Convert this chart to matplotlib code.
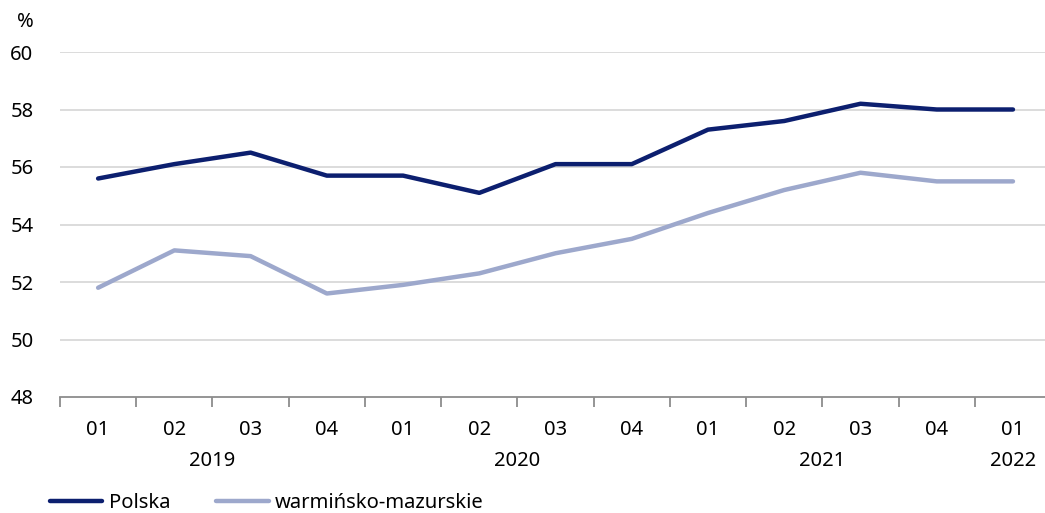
import matplotlib.pyplot as plt
import numpy as np

plt.rcParams['font.family'] = ['Noto Sans', 'DejaVu Sans']

quarters = ['01', '02', '03', '04', '01', '02', '03', '04', '01', '02', '03', '04', '01']
years = ['2019', '2020', '2021', '2022']
year_pos = [1.5, 5.5, 9.5, 12]
polska = [55.6, 56.1, 56.5, 55.7, 55.7, 55.1, 56.1, 56.1, 57.3, 57.6, 58.2, 58.0, 58.0]
warm = [51.8, 53.1, 52.9, 51.6, 51.9, 52.3, 53.0, 53.5, 54.4, 55.2, 55.8, 55.5, 55.5]

fs = 14.5

fig = plt.figure(figsize=(10.45, 5.13), dpi=100)
ax = fig.add_axes([60/1045, 1-397/513, 1-60/1045, (397-52)/513])

x = np.arange(len(quarters))
ax.plot(x, polska, color='#0c1f6f', lw=3.2, label='Polska', solid_capstyle='round')
ax.plot(x, warm, color='#9da8cc', lw=3.2, label='warmińsko-mazurskie', solid_capstyle='round')

ax.set_ylim(48, 60)
ax.set_xlim(-0.5, 12.42)
ax.set_yticks(range(48, 61, 2))
for v in range(50, 61, 2):
    ax.axhline(v, color='#d9d9d9', lw=1.3, zorder=0)

for s in ['top', 'right', 'left']:
    ax.spines[s].set_visible(False)
ax.spines['bottom'].set_color('#8c8c8c')
ax.spines['bottom'].set_linewidth(1.3)

ax.set_xticks(np.arange(-0.5, 12, 1))
ax.set_xticklabels([])
ax.tick_params(axis='x', length=7, width=1.3, color='#8c8c8c', direction='out')
ax.tick_params(axis='y', length=0, pad=19, labelsize=fs)

tr = ax.get_xaxis_transform()
for i, q in enumerate(quarters):
    ax.text(i, -33/345, q, transform=tr, ha='center', va='center', fontsize=fs)
for p, y in zip(year_pos, years):
    ax.text(p, -64/345, y, transform=tr, ha='center', va='center', fontsize=fs)

fig.text(25/1045, 1-22/513, '%', ha='center', va='center', fontsize=fs)

fig.legend(loc='center left', bbox_to_anchor=(32/1045, 1-503/513), ncol=2, frameon=False,
           fontsize=fs, handlelength=2.6, handletextpad=0.3, columnspacing=2.3)

fig.savefig('out.png', dpi=100)
